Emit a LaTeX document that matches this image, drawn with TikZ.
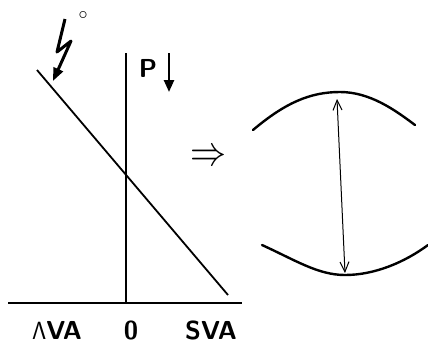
\documentclass[tikz,border=0pt]{standalone}
\usetikzlibrary{arrows.meta}
\begin{document}
\begin{tikzpicture}[x=1pt,y=-1pt,
  ln/.style={line width=1.8pt},
  arc/.style={line width=2.4pt,line cap=round},
  lbl/.style={font=\fontsize{26}{30}\selectfont\sffamily\bfseries,inner sep=0pt},
  thinarr/.style={line width=1pt,{Straight Barb[length=10pt,width=9pt]}-{Straight Barb[length=10pt,width=9pt]}}]
\useasboundingbox (0,0) rectangle (428,346);
% axes
\coordinate (vtop) at (126,53);
\coordinate (vbot) at (126,303);
\coordinate (hl) at (8,303);
\coordinate (hr) at (242,303);
\coordinate (dtop) at (37,70);
\coordinate (dbot) at (228,295);
\draw[ln] (vtop) -- (vbot);
\draw[ln] (hl) -- (hr);
\draw[ln] (dtop) -- (dbot);
% bolt
\coordinate (b1) at (65,19);
\coordinate (b2) at (57,52);
\coordinate (b3) at (71,41);
\coordinate (b4) at (53,81);
\draw[line width=3pt,line join=round,-{Triangle[length=13pt,width=10pt]}] (b1) -- (b2) -- (b3) -- (b4);
\node[inner sep=0pt] (deg) at (83,15) {\scalebox{1.8}{$\circ$}};
% P with arrow
\node[lbl,font=\fontsize{26}{30}\selectfont\sffamily\bfseries] (P) at (148,68) {P};
\coordinate (pa1) at (169,53);
\coordinate (pa2) at (169,92);
\draw[line width=2.4pt,-{Triangle[length=12pt,width=10pt]}] (pa1) -- (pa2);
% implies
\node[inner sep=0pt] (imp) at (208,158) {\scalebox{3.6}[4.2]{$\Rightarrow$}};
% labels
\node[lbl] (ava) at (57,330) {$\mathsf{\Lambda}$VA};
\node[lbl] (zero) at (131,330) {0};
\node[lbl] (sva) at (211,330) {SVA};
% lens shape
\coordinate (t1) at (253,130);
\coordinate (tm) at (340,92);
\coordinate (t2) at (415,125);
\coordinate (u1) at (262,245);
\coordinate (um) at (345,275);
\coordinate (u2) at (428,245);
\draw[arc] (t1) .. controls (285,103) and (310,92) .. (tm) .. controls (370,92) and (395,110) .. (t2);
\draw[arc] (u1) .. controls (295,260) and (318,275) .. (um) .. controls (375,275) and (405,262) .. (u2);
\coordinate (d1) at (337,99);
\coordinate (d2) at (345,273);
\draw[thinarr] (d1) -- (d2);
\end{tikzpicture}
\end{document}
